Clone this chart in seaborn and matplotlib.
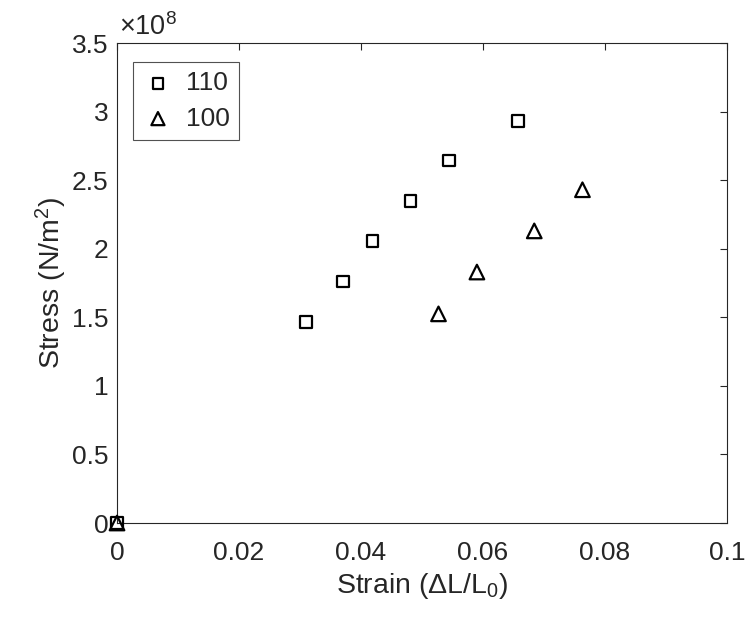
import matplotlib
matplotlib.use("Agg")
import matplotlib.pyplot as plt
import seaborn as sns
import numpy as np
import pandas as pd

strain_110 = [0.0, 0.0310, 0.0370, 0.0419, 0.0481, 0.0544, 0.0657]
stress_110 = [0.0, 1.466e8, 1.760e8, 2.055e8, 2.349e8, 2.643e8, 2.932e8]
strain_100 = [0.0, 0.0527, 0.0590, 0.0684, 0.0763]
stress_100 = [0.0, 1.525e8, 1.830e8, 2.130e8, 2.430e8]

sns.set_style("white")
plt.rcParams['font.family'] = ['Liberation Sans', 'DejaVu Sans']
plt.rcParams['mathtext.fontset'] = 'custom'
plt.rcParams['mathtext.rm'] = 'Liberation Sans'
plt.rcParams['mathtext.it'] = 'Liberation Sans'

fig = plt.figure(figsize=(7.53, 6.18), dpi=100)
ax = fig.add_axes([0.1554, 0.1537, 0.8101, 0.7767])

df110 = pd.DataFrame({"strain": strain_110, "stress": stress_110})
df100 = pd.DataFrame({"strain": strain_100, "stress": stress_100})

sns.scatterplot(data=df110, x="strain", y="stress", marker="s", s=70,
                facecolors="none", edgecolors="black", linewidth=1.6, ax=ax,
                label="110", zorder=3, clip_on=False)
sns.scatterplot(data=df100, x="strain", y="stress", marker="^", s=110,
                facecolors="none", edgecolors="black", linewidth=1.6, ax=ax,
                label="100", zorder=3, clip_on=False)

ax.set_xlim(0, 0.1)
ax.set_ylim(0, 3.5e8)
ax.set_xticks([0, 0.02, 0.04, 0.06, 0.08, 0.1])
ax.set_xticklabels(["0", "0.02", "0.04", "0.06", "0.08", "0.1"])
ax.set_yticks(np.arange(0, 3.51e8, 0.5e8))
ax.set_yticklabels(["0", "0.5", "1", "1.5", "2", "2.5", "3", "3.5"])
ax.text(0.004, 1.004, r"$\times10^{8}$", transform=ax.transAxes, fontsize=19.5,
        ha="left", va="bottom", color="#262626")

ax.set_xlabel(r"Strain ($\Delta$L/L$_0$)", fontsize=20.5, color="#262626", labelpad=4)
ax.set_ylabel(r"Stress (N/m$^2$)", fontsize=20.5, color="#262626", labelpad=2)

ax.tick_params(axis="x", pad=13)
ax.tick_params(axis="y", pad=6)
ax.tick_params(axis="both", which="both", direction="in", length=5, width=0.8,
               colors="#262626", labelsize=19, top=True, right=True)
for sp in ax.spines.values():
    sp.set_color("#262626")
    sp.set_linewidth(0.8)
    sp.set_visible(True)

leg = ax.legend(loc="upper left", bbox_to_anchor=(0.026, 0.96), fontsize=19,
                frameon=True, fancybox=False, edgecolor="#262626",
                handletextpad=0.45, borderpad=0.35, labelspacing=0.42, handlelength=1.2,
                borderaxespad=0, markerscale=0.9)
leg.get_frame().set_linewidth(0.8)

fig.savefig("out.png", dpi=100)
